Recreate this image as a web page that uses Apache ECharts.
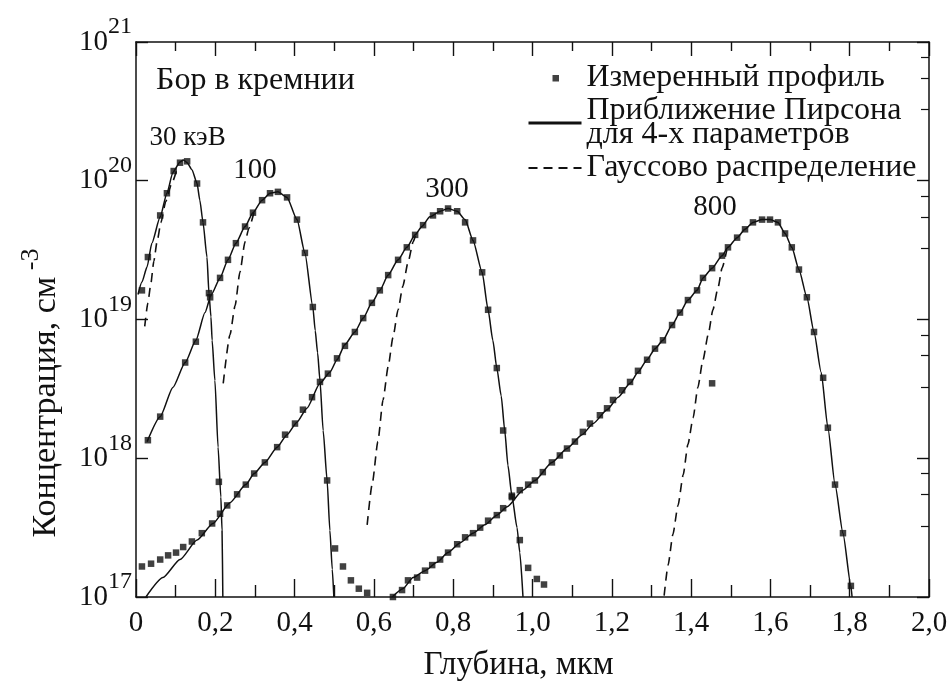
<!DOCTYPE html>
<html>
<head>
<meta charset="utf-8">
<script src="https://cdn.jsdelivr.net/npm/echarts@6.0.0/dist/echarts.min.js"></script>
<style>
  html, body { margin: 0; padding: 0; background: #fff; }
  #chart { width: 951px; height: 692px; }
</style>
</head>
<body>
<div id="chart"></div>
<script>
// Boron implanted into silicon: depth profiles for 30, 100, 300 and 800 keV.
// Each point is [depth in um, lg N] with N the concentration in cm^-3.

const energyNames = ['30 кэВ', '100', '300', '800'];

// Pearson IV (four-moment) fits
const pearson30 = [[0.005,19.18],[0.015,19.27],[0.028,19.38],[0.040,19.55],[0.061,19.74],[0.078,19.91],[0.093,20.06],[0.111,20.135],[0.120,20.15],[0.129,20.13],[0.141,20.08],[0.154,19.98],[0.161,19.86],[0.169,19.70],[0.179,19.45],[0.184,19.19],[0.189,19.02],[0.192,18.85],[0.199,18.56],[0.207,18.08],[0.214,17.72],[0.217,17.48],[0.219,17.0]];
const pearson100 = [[0.028,18.12],[0.061,18.30],[0.093,18.51],[0.124,18.69],[0.151,18.85],[0.174,19.05],[0.190,19.18],[0.212,19.30],[0.232,19.43],[0.252,19.55],[0.275,19.67],[0.295,19.77],[0.318,19.86],[0.338,19.91],[0.358,19.92],[0.381,19.88],[0.406,19.72],[0.426,19.48],[0.446,19.09],[0.452,18.92],[0.458,18.76],[0.464,18.56],[0.472,18.20],[0.482,17.84],[0.489,17.48],[0.495,17.20],[0.499,17.0]];
const pearson300 = [[0.025,17.0],[0.068,17.14],[0.111,17.27],[0.154,17.41],[0.194,17.53],[0.237,17.68],[0.277,17.81],[0.298,17.89],[0.325,17.97],[0.356,18.08],[0.381,18.17],[0.406,18.26],[0.431,18.36],[0.464,18.54],[0.489,18.62],[0.507,18.71],[0.527,18.82],[0.552,18.91],[0.573,19.01],[0.595,19.12],[0.615,19.21],[0.636,19.32],[0.661,19.43],[0.683,19.52],[0.704,19.61],[0.721,19.67],[0.741,19.74],[0.767,19.78],[0.787,19.80],[0.810,19.78],[0.830,19.72],[0.850,19.57],[0.873,19.34],[0.888,19.07],[0.900,18.85],[0.910,18.65],[0.921,18.45],[0.930,18.20],[0.938,17.95],[0.948,17.73],[0.961,17.50],[0.968,17.32],[0.976,17.0]];
const pearson800 = [[0.646,17.0],[0.673,17.06],[0.699,17.14],[0.729,17.19],[0.759,17.25],[0.787,17.32],[0.817,17.39],[0.850,17.46],[0.880,17.52],[0.910,17.59],[0.936,17.65],[0.976,17.77],[1.006,17.84],[1.049,17.97],[1.087,18.07],[1.125,18.17],[1.153,18.25],[1.188,18.35],[1.216,18.44],[1.246,18.54],[1.266,18.62],[1.289,18.71],[1.309,18.79],[1.329,18.85],[1.352,18.96],[1.372,19.05],[1.392,19.14],[1.415,19.21],[1.430,19.30],[1.453,19.37],[1.478,19.46],[1.493,19.52],[1.516,19.59],[1.536,19.65],[1.556,19.70],[1.579,19.72],[1.599,19.72],[1.619,19.70],[1.637,19.62],[1.654,19.52],[1.672,19.36],[1.692,19.16],[1.710,18.91],[1.728,18.62],[1.745,18.22],[1.763,17.81],[1.783,17.46],[1.803,17.08],[1.806,17.0]];

// Gaussian profiles (shown where they leave the Pearson curves)
const gauss30 = [[0.022,18.95],[0.030,19.12],[0.037,19.25],[0.045,19.42],[0.053,19.56],[0.063,19.70],[0.075,19.85],[0.090,19.98],[0.105,20.10]];
const gauss100 = [[0.220,18.54],[0.237,18.89],[0.250,19.10],[0.262,19.34],[0.275,19.56],[0.285,19.66],[0.300,19.80]];
const gauss300 = [[0.583,17.52],[0.596,17.82],[0.610,18.12],[0.623,18.42],[0.636,18.66],[0.648,18.87],[0.661,19.07],[0.673,19.24],[0.686,19.41],[0.699,19.56],[0.708,19.64]];
const gauss800 = [[1.332,17.01],[1.342,17.23],[1.354,17.45],[1.367,17.66],[1.380,17.88],[1.392,18.10],[1.405,18.29],[1.417,18.51],[1.430,18.71],[1.443,18.89],[1.455,19.07],[1.468,19.23],[1.478,19.37],[1.490,19.50]];

// Measured (SIMS) points
const measured30 = [[0.015,19.21],[0.030,19.45],[0.061,19.75],[0.078,19.91],[0.095,20.07],[0.111,20.13],[0.129,20.14],[0.154,19.98],[0.169,19.70],[0.184,19.19],[0.209,17.83]];
const measured100 = [[0.030,18.13],[0.061,18.30],[0.124,18.69],[0.151,18.84],[0.187,19.16],[0.212,19.30],[0.232,19.43],[0.252,19.55],[0.275,19.67],[0.295,19.77],[0.318,19.86],[0.338,19.91],[0.358,19.92],[0.381,19.88],[0.406,19.72],[0.426,19.48],[0.446,19.09],[0.482,17.84],[0.502,17.35],[0.522,17.22],[0.542,17.12],[0.562,17.06],[0.583,17.03]];
const measured300 = [[0.015,17.22],[0.038,17.24],[0.061,17.27],[0.081,17.30],[0.101,17.32],[0.119,17.36],[0.141,17.40],[0.166,17.46],[0.192,17.53],[0.212,17.60],[0.230,17.66],[0.255,17.74],[0.277,17.81],[0.298,17.89],[0.325,17.97],[0.356,18.08],[0.376,18.17],[0.401,18.25],[0.421,18.35],[0.444,18.44],[0.464,18.55],[0.484,18.61],[0.507,18.72],[0.527,18.81],[0.552,18.91],[0.573,19.01],[0.595,19.12],[0.615,19.21],[0.636,19.32],[0.661,19.43],[0.683,19.52],[0.704,19.61],[0.724,19.68],[0.749,19.75],[0.767,19.78],[0.787,19.80],[0.810,19.78],[0.830,19.70],[0.850,19.57],[0.873,19.34],[0.888,19.07],[0.910,18.65],[0.926,18.20],[0.948,17.73],[0.968,17.41],[0.989,17.21],[1.011,17.13],[1.029,17.09]];
const measured800 = [[0.648,17.00],[0.671,17.05],[0.686,17.12],[0.709,17.14],[0.729,17.19],[0.747,17.23],[0.767,17.27],[0.787,17.32],[0.810,17.38],[0.830,17.43],[0.850,17.46],[0.868,17.50],[0.888,17.55],[0.910,17.59],[0.926,17.64],[0.948,17.72],[0.968,17.77],[0.989,17.81],[1.006,17.84],[1.026,17.90],[1.049,17.97],[1.069,18.02],[1.087,18.07],[1.107,18.12],[1.127,18.19],[1.145,18.25],[1.170,18.31],[1.188,18.36],[1.203,18.42],[1.226,18.49],[1.246,18.55],[1.266,18.63],[1.289,18.71],[1.309,18.79],[1.329,18.85],[1.352,18.96],[1.372,19.05],[1.392,19.14],[1.415,19.21],[1.430,19.30],[1.453,18.54],[1.453,19.37],[1.478,19.46],[1.493,19.52],[1.516,19.59],[1.536,19.65],[1.556,19.70],[1.579,19.72],[1.599,19.72],[1.619,19.70],[1.637,19.62],[1.654,19.52],[1.672,19.36],[1.692,19.16],[1.710,18.91],[1.733,18.58],[1.745,18.22],[1.763,17.81],[1.783,17.46],[1.803,17.08]];

const xTicks = { min: 0, max: 2.0, step: 0.2 };
const yDecades = { min: 17, max: 21 };

const NAME_MEAS = 'Измеренный профиль';
const NAME_PEARSON = 'Приближение Пирсона\nдля 4-х параметров';
const NAME_GAUSS = 'Гауссово распределение';

const FONT = '"Liberation Serif", "DejaVu Serif", serif';
const INK = '#111';
const CLEAR = 'rgba(0,0,0,0)';

const toConc = pairs => pairs.map(([d, lg]) => [d, Math.pow(10, lg)]);

// label offsets of the energy captions relative to each profile maximum (px)
const captionOffsets = [[4, -22], [-23, -21], [-1, -19], [-47, -12]];

const pearsonSets = [pearson30, pearson100, pearson300, pearson800];
const gaussSets = [gauss30, gauss100, gauss300, gauss800];
const measuredSets = [measured30, measured100, measured300, measured800];

const series = [];
gaussSets.forEach(set => series.push({
  name: NAME_GAUSS, type: 'line', data: toConc(set),
  symbol: 'none', smooth: 0.2, smoothMonotone: 'x',
  itemStyle: { color: INK },
  lineStyle: { color: INK, width: 1.6, type: [9, 6] }, z: 2
}));
pearsonSets.forEach((set, i) => series.push({
  name: NAME_PEARSON, type: 'line', data: toConc(set),
  symbol: 'none', smooth: 0.2, smoothMonotone: 'x',
  itemStyle: { color: INK },
  lineStyle: { color: INK, width: 1.5 }, z: 3,
  markPoint: {
    symbol: 'circle', symbolSize: 1,
    itemStyle: { color: CLEAR },
    data: [{ type: 'max', valueDim: 'y' }],
    label: {
      show: true, position: 'inside', offset: captionOffsets[i],
      formatter: energyNames[i], color: INK,
      fontFamily: FONT, fontSize: i === 0 ? 27 : 29
    }
  }
}));
measuredSets.forEach(set => series.push({
  name: NAME_MEAS, type: 'scatter', data: toConc(set),
  symbol: 'rect', symbolSize: 6.5, itemStyle: { color: INK }, z: 4
}));

const frameLine = { show: true, onZero: false, lineStyle: { color: INK, width: 1.5 } };
const hiddenMarker = { color: CLEAR, borderColor: CLEAR, borderWidth: 0, opacity: 0 };

const chart = echarts.init(document.getElementById('chart'), null, { renderer: 'canvas' });
chart.setOption({
  animation: false,
  backgroundColor: '#fff',
  grid: { left: 136, right: 22, top: 42, bottom: 95 },
  title: {
    text: 'Бор в кремнии', left: 151, top: 60,
    textStyle: { fontFamily: FONT, fontSize: 32, fontWeight: 'normal', color: INK }
  },
  legend: {
    orient: 'vertical', left: 522, top: 57,
    itemWidth: 53, itemHeight: 14, itemGap: 1,
    textStyle: { fontFamily: FONT, fontSize: 32, color: INK, lineHeight: 24 },
    data: [
      { name: NAME_MEAS, icon: 'path://M0,0M53,14M24,4h6.5v6.5h-6.5z', itemStyle: { color: INK } },
      { name: NAME_PEARSON, lineStyle: { width: 3 }, itemStyle: hiddenMarker },
      { name: NAME_GAUSS, itemStyle: hiddenMarker }
    ]
  },
  xAxis: [{
    type: 'value', min: xTicks.min, max: xTicks.max, interval: xTicks.step,
    axisLine: frameLine,
    axisTick: { inside: true, length: 18, lineStyle: { color: INK, width: 1.4 } },
    minorTick: { show: true, splitNumber: 2, length: 12, lineStyle: { color: INK, width: 1.4 } },
    splitLine: { show: false },
    axisLabel: {
      margin: 12, color: INK, fontFamily: FONT, fontSize: 29,
      formatter: v => v === 0 ? '0' : v.toFixed(1).replace('.', ',')
    },
    name: 'Глубина, мкм', nameLocation: 'middle', nameGap: 52,
    nameTextStyle: { fontFamily: FONT, fontSize: 33, color: INK, padding: [0, 28, 0, 0] }
  }, {
    type: 'value', position: 'top', min: xTicks.min, max: xTicks.max, interval: xTicks.step,
    axisLine: frameLine,
    axisTick: { inside: true, length: 14, lineStyle: { color: INK, width: 1.4 } },
    minorTick: { show: true, splitNumber: 2, length: 9, lineStyle: { color: INK, width: 1.4 } },
    splitLine: { show: false }, axisLabel: { show: false }
  }],
  yAxis: [{
    type: 'log', logBase: 10, min: Math.pow(10, yDecades.min), max: Math.pow(10, yDecades.max),
    axisLine: frameLine,
    axisTick: { inside: true, length: 12, lineStyle: { color: INK, width: 1.4 } },
    splitLine: { show: false },
    axisLabel: {
      margin: 4, color: INK,
      formatter: v => '{b|10}{s|' + Math.round(Math.log10(v)) + '}',
      rich: {
        b: { fontFamily: FONT, fontSize: 29, color: INK },
        s: { fontFamily: FONT, fontSize: 24, color: INK, padding: [0, 0, 30, 0] }
      }
    }
  }, {
    type: 'log', logBase: 10, position: 'right', min: Math.pow(10, yDecades.min), max: Math.pow(10, yDecades.max),
    axisLine: frameLine,
    axisTick: { inside: true, length: 12, lineStyle: { color: INK, width: 1.4 } },
    minorTick: { show: true, splitNumber: 4, length: 8, lineStyle: { color: INK, width: 1.2 } },
    splitLine: { show: false }, axisLabel: { show: false }
  }],
  graphic: [{
    type: 'text', x: 46, y: 393, rotation: Math.PI / 2,
    style: {
      text: '{t|Концентрация, см}{s| -3}',
      align: 'center', verticalAlign: 'middle',
      rich: {
        t: { fontFamily: FONT, fontSize: 34, fill: INK },
        s: { fontFamily: FONT, fontSize: 26, fill: INK, padding: [0, 0, 30, 0] }
      }
    }
  }],
  series: series
});
</script>
</body>
</html>
